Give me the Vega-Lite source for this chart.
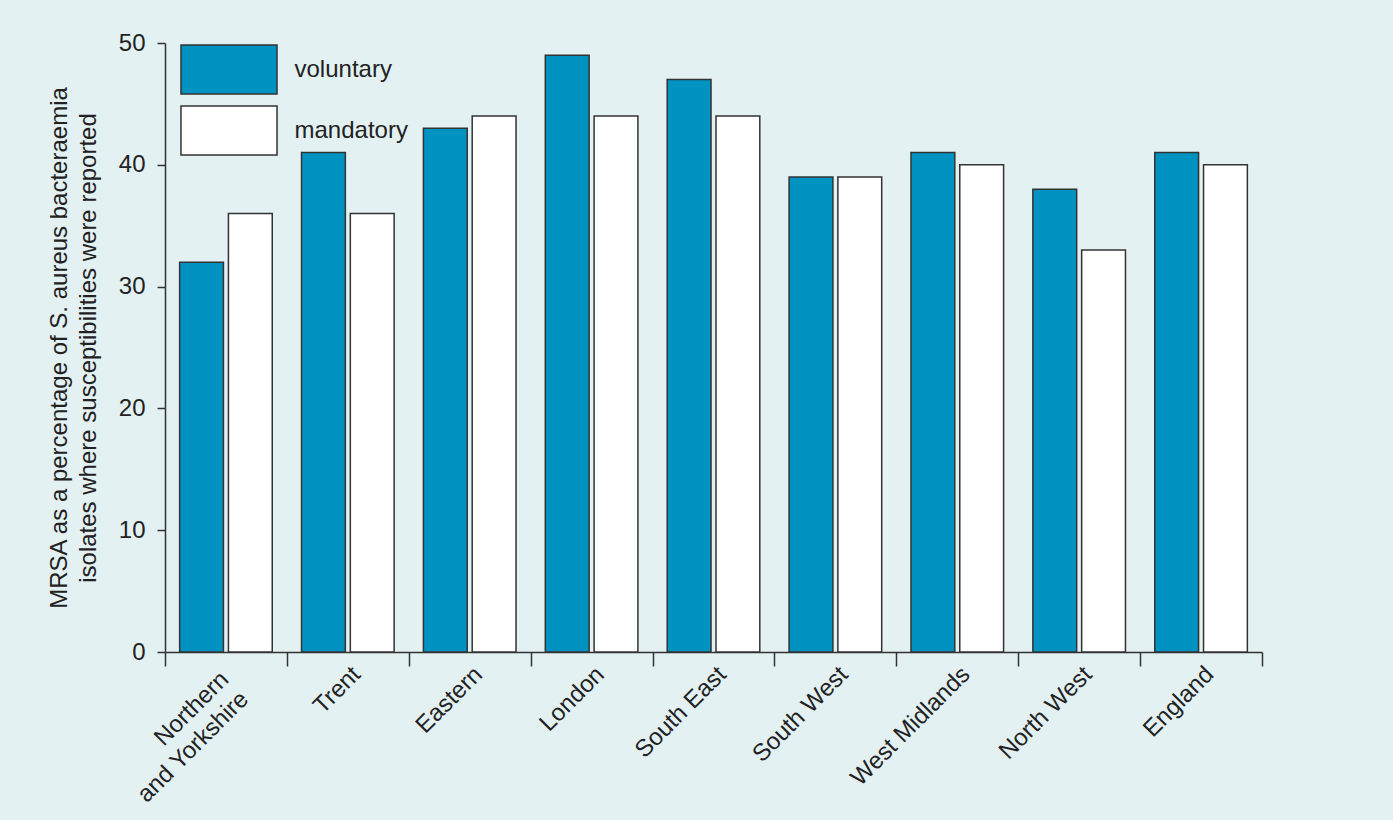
{
  "$schema": "https://vega.github.io/schema/vega-lite/v6.json",
  "autosize": "none",
  "width": 1097,
  "height": 609,
  "padding": {"left": 165, "top": 43, "right": 131, "bottom": 168},
  "background": "#e3f1f3",
  "config": {
    "view": {"stroke": null},
    "font": "Liberation Sans",
    "axis": {
      "domainColor": "#333333",
      "domainWidth": 1.5,
      "tickColor": "#333333",
      "tickWidth": 1.5,
      "labelColor": "#222222",
      "titleColor": "#222222",
      "labelFont": "Liberation Sans",
      "titleFont": "Liberation Sans",
      "labelFontSize": 24,
      "titleFontSize": 24,
      "titleFontWeight": "normal",
      "grid": false
    }
  },
  "data": {
    "values": [
      {"region": "Northern|and Yorkshire", "type": "voluntary", "pct": 32},
      {"region": "Northern|and Yorkshire", "type": "mandatory", "pct": 36},
      {"region": "Trent", "type": "voluntary", "pct": 41},
      {"region": "Trent", "type": "mandatory", "pct": 36},
      {"region": "Eastern", "type": "voluntary", "pct": 43},
      {"region": "Eastern", "type": "mandatory", "pct": 44},
      {"region": "London", "type": "voluntary", "pct": 49},
      {"region": "London", "type": "mandatory", "pct": 44},
      {"region": "South East", "type": "voluntary", "pct": 47},
      {"region": "South East", "type": "mandatory", "pct": 44},
      {"region": "South West", "type": "voluntary", "pct": 39},
      {"region": "South West", "type": "mandatory", "pct": 39},
      {"region": "West Midlands", "type": "voluntary", "pct": 41},
      {"region": "West Midlands", "type": "mandatory", "pct": 40},
      {"region": "North West", "type": "voluntary", "pct": 38},
      {"region": "North West", "type": "mandatory", "pct": 33},
      {"region": "England", "type": "voluntary", "pct": 41},
      {"region": "England", "type": "mandatory", "pct": 40}
    ]
  },
  "mark": {"type": "bar", "stroke": "#333333", "strokeWidth": 1.5},
  "encoding": {
    "x": {
      "field": "region",
      "type": "nominal",
      "sort": null,
      "scale": {"paddingInner": 0, "paddingOuter": 0},
      "axis": {
        "title": null,
        "labelAngle": -45,
        "labelAlign": "right",
        "labelBaseline": "top",
        "labelPadding": {"condition": {"test": "datum.value == 'Northern|and Yorkshire'", "value": 1}, "value": -4},
        "labelOffset": {"condition": {"test": "datum.value == 'Northern|and Yorkshire'", "value": -10}, "value": 0},
        "tickBand": "extent",
        "tickSize": 14,
        "labelLineHeight": 28,
        "labelExpr": "datum.value ? split(datum.value, '|') : ''"
      }
    },
    "xOffset": {
      "field": "type",
      "type": "nominal",
      "sort": ["voluntary", "mandatory"],
      "scale": {"paddingInner": 0.102, "paddingOuter": 0.3}
    },
    "y": {
      "field": "pct",
      "type": "quantitative",
      "scale": {"domain": [0, 50], "nice": false},
      "axis": {
        "values": [0, 10, 20, 30, 40, 50],
        "tickSize": 8,
        "labelPadding": 12,
        "title": ["MRSA as a percentage of S. aureus bacteraemia", "isolates where susceptibilities were reported"],
        "titlePadding": 18,
        "titleLineHeight": 29
      }
    },
    "fill": {
      "field": "type",
      "type": "nominal",
      "sort": ["voluntary", "mandatory"],
      "scale": {"domain": ["voluntary", "mandatory"], "range": ["#0093c2", "#ffffff"]},
      "legend": {
        "title": null,
        "orient": "none",
        "legendX": 38.5,
        "legendY": 1,
        "symbolType": "M-1.96,-1H1.96V1H-1.96Z",
        "symbolSize": 2401,
        "symbolStrokeColor": "#333333",
        "symbolStrokeWidth": 1.5,
        "labelFontSize": 24,
        "labelColor": "#222222",
        "labelFont": "Liberation Sans",
        "labelOffset": 40,
        "rowPadding": 6,
        "padding": 0
      }
    }
  }
}
